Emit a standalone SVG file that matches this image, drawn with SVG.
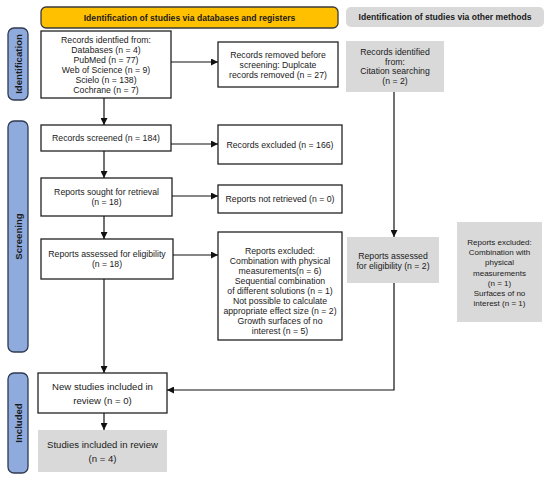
<svg xmlns="http://www.w3.org/2000/svg" width="550" height="479" viewBox="0 0 550 479">
<defs>
<marker id="ah" viewBox="0 0 10 10" refX="10" refY="5" markerWidth="7" markerHeight="7" markerUnits="userSpaceOnUse" orient="auto">
<path d="M0,0 L10,5 L0,10 z" fill="#111"/>
</marker>
</defs>
<style>
text{font-family:"Liberation Sans",Arial,sans-serif;fill:#1a1a1a;text-anchor:middle}
.t{font-size:8.7px}
.s{font-size:8px}
.b{font-size:9.6px}
.h{font-size:8.6px;font-weight:bold}
.side{font-size:9.6px;font-weight:bold}
.box{fill:#fff;stroke:#222;stroke-width:1.3}
.gray{fill:#d9d9d9;stroke:none}
.bar{fill:#8faadc;stroke:#2f3a52;stroke-width:1.3}
.conn{fill:none;stroke:#111;stroke-width:1.2}
</style>
<rect width="550" height="479" fill="#fff"/>

<g id="header-db">
<rect x="41" y="7" width="297" height="21" rx="5" fill="#ffc000" stroke="#3a3a3a" stroke-width="1.3"/>
<text class="h" x="189.5" y="20.5">Identification of studies via databases and registers</text>
</g>
<g id="header-other">
<rect x="346" y="7" width="198" height="20" rx="5" fill="#d9d9d9"/>
<text class="h" x="445" y="20">Identification of studies via other methods</text>
</g>

<g id="side-identification">
<rect class="bar" x="8" y="28" width="20" height="72" rx="6"/>
<text class="side" transform="translate(21.5,64) rotate(-90)">Identification</text>
</g>
<g id="side-screening">
<rect class="bar" x="8" y="121" width="20" height="231" rx="6"/>
<text class="side" transform="translate(21.5,236.5) rotate(-90)">Screening</text>
</g>
<g id="side-included">
<rect class="bar" x="8" y="373" width="20" height="100" rx="6"/>
<text class="side" transform="translate(21.5,423) rotate(-90)">Included</text>
</g>

<g id="records-identified">
<rect class="box" x="41" y="31" width="130" height="67"/>
<text class="t" x="106" y="42.5">Records identfied from:</text>
<text class="t" x="106" y="52.5">Databases (n = 4)</text>
<text class="t" x="106" y="62.5">PubMed (n = 77)</text>
<text class="t" x="106" y="72.5">Web of Science (n = 9)</text>
<text class="t" x="106" y="82.5">Scielo (n = 138)</text>
<text class="t" x="106" y="92.5">Cochrane (n = 7)</text>
</g>
<g id="records-removed">
<rect class="box" x="218" y="42" width="120" height="45"/>
<text class="t" x="278" y="57.5">Records removed before</text>
<text class="t" x="278" y="67.5">screening: Duplcate</text>
<text class="t" x="278" y="77.5">records removed (n = 27)</text>
</g>
<g id="citation-searching">
<rect class="gray" x="346" y="41" width="98" height="51"/>
<text class="t" x="395" y="55">Records identified</text>
<text class="t" x="395" y="64.5">from:</text>
<text class="t" x="395" y="74">Citation searching</text>
<text class="t" x="395" y="83.5">(n = 2)</text>
</g>
<g id="records-screened">
<rect class="box" x="41" y="125" width="130" height="26"/>
<text class="t" x="106" y="141">Records screened (n = 184)</text>
</g>
<g id="records-excluded">
<rect class="box" x="218" y="125" width="124" height="39"/>
<text class="t" x="280" y="147.5">Records excluded (n = 166)</text>
</g>
<g id="reports-sought">
<rect class="box" x="41" y="178" width="131" height="38"/>
<text class="t" x="106.5" y="195">Reports sought for retrieval</text>
<text class="t" x="106.5" y="204.5">(n = 18)</text>
</g>
<g id="reports-not-retrieved">
<rect class="box" x="218" y="185" width="124" height="28"/>
<text class="t" x="280" y="202">Reports not retrieved (n = 0)</text>
</g>
<g id="reports-assessed">
<rect class="box" x="41" y="239" width="132" height="40"/>
<text class="t" x="107" y="257">Reports assessed for eligibility</text>
<text class="t" x="107" y="266.5">(n = 18)</text>
</g>
<g id="reports-excluded">
<rect class="box" x="218" y="232" width="124" height="108"/>
<text class="t" x="280" y="254">Reports excluded:</text>
<text class="t" x="280" y="264">Combination with physical</text>
<text class="t" x="280" y="274">measurements(n = 6)</text>
<text class="t" x="280" y="284">Sequential combination</text>
<text class="t" x="280" y="294">of different solutions (n = 1)</text>
<text class="t" x="280" y="304">Not possible to calculate</text>
<text class="t" x="280" y="314">appropriate effect size (n = 2)</text>
<text class="t" x="280" y="324">Growth surfaces of no</text>
<text class="t" x="280" y="334">interest (n = 5)</text>
</g>
<g id="reports-assessed-other">
<rect class="gray" x="347" y="237" width="92" height="46"/>
<text class="t" x="393" y="259">Reports assessed</text>
<text class="t" x="393" y="268.5">for eligibility (n = 2)</text>
</g>
<g id="reports-excluded-other">
<rect class="gray" x="457" y="222" width="85" height="100"/>
<text class="s" x="499.5" y="245">Reports excluded:</text>
<text class="s" x="499.5" y="255">Combination with</text>
<text class="s" x="499.5" y="265">physical</text>
<text class="s" x="499.5" y="275.5">measurements</text>
<text class="s" x="499.5" y="285.5">(n = 1)</text>
<text class="s" x="499.5" y="295.5">Surfaces of no</text>
<text class="s" x="499.5" y="306">interest (n = 1)</text>
</g>
<g id="new-studies">
<rect class="box" x="38" y="373" width="129" height="40"/>
<text class="b" x="102.5" y="389.5">New studies included in</text>
<text class="b" x="102.5" y="403.5">review (n = 0)</text>
</g>
<g id="studies-included">
<rect class="gray" x="38" y="430" width="129" height="42"/>
<text class="b" x="102.5" y="447.5">Studies included in review</text>
<text class="b" x="102.5" y="461.5">(n = 4)</text>
</g>

<g id="connectors">
<path class="conn" marker-end="url(#ah)" d="M104,98 V125"/>
<path class="conn" marker-end="url(#ah)" d="M171,62 H218"/>
<path class="conn" marker-end="url(#ah)" d="M104,151 V178"/>
<path class="conn" marker-end="url(#ah)" d="M171,144 H218"/>
<path class="conn" marker-end="url(#ah)" d="M104,216 V239"/>
<path class="conn" marker-end="url(#ah)" d="M172,196 H218"/>
<path class="conn" marker-end="url(#ah)" d="M173,255 H218"/>
<path class="conn" marker-end="url(#ah)" d="M104,279 V373"/>
<path class="conn" marker-end="url(#ah)" d="M104,413 V430"/>
<path class="conn" marker-end="url(#ah)" d="M394,92 V237"/>
<path class="conn" marker-end="url(#ah)" d="M394,283 V390 H167"/>
</g>
</svg>
